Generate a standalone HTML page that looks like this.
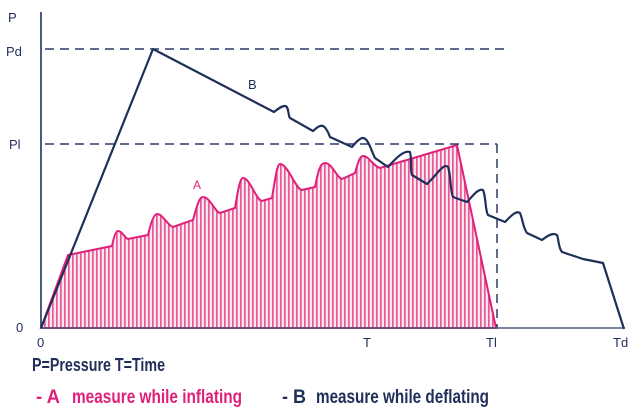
<!DOCTYPE html>
<html><head><meta charset="utf-8"><style>
html,body{margin:0;padding:0;background:#fff;width:644px;height:418px;overflow:hidden}
svg{display:block}
text{font-family:"Liberation Sans",sans-serif}
</style></head><body>
<svg width="644" height="418" viewBox="0 0 644 418" xmlns="http://www.w3.org/2000/svg">
<defs>
<pattern id="h" width="4" height="10" patternUnits="userSpaceOnUse">
<rect width="4" height="10" fill="#fce6ef"/>
<rect x="0" width="1.7" height="10" fill="#e85a95"/>
</pattern>
</defs>
<path d="M41,328 L68,255 L112,246 C114,236 116,231 118,231 C122,231 125,238 128,239 L148,235 C151,222 154,214 157,214 C163,214 168,226 173,227 L193,220 C197,206 199,197 203,197 C210,197 215,212 220,213 L235,208 C238,190 240,178 243,178 C250,178 256,200 262,201 L272,198 C275,180 277,164 280,164 C288,164 296,190 302,190 L315,187 C318,172 320,163 325,163 C332,163 337,178 342,179 L355,173 C358,162 360,156 363,156 C369,156 374,167 380,168 L457,145 L496,328 Z" fill="url(#h)" stroke="#e0207a" stroke-width="2"/>
<g stroke="#2a3a66" stroke-width="1.5" stroke-dasharray="9,6" fill="none">
<line x1="45" y1="49" x2="505" y2="49"/>
<line x1="45" y1="144" x2="497" y2="144"/>
<line x1="497" y1="144" x2="497" y2="328"/>
</g>
<line x1="41" y1="12" x2="41" y2="329" stroke="#4a5a80" stroke-width="2"/>
<line x1="41" y1="328" x2="625" y2="328" stroke="#4a5a80" stroke-width="1.5"/>
<path d="M41,328 L153,49 L274,112 C279,108 282,106 285,106 C289,106 288,116 290,118 L313,131 C320,125 324,121 330,137 L352,147 C356,142 360,138 363,138 C368,138 371,150 375,158 L388,167 C396,158 404,150 410,152 C412,160 410,170 412,175 L427,184 C436,176 444,162 448,167 C451,175 450,190 453,197 L467,202 C472,197 478,188 483,190 C486,196 485,210 488,215 L505,222 C510,217 516,210 520,213 C523,220 523,228 527,233 L542,240 C547,236 553,232 557,235 C559,240 558,247 562,252 L583,259 L603,263 L624,329" fill="none" stroke="#1f2f5a" stroke-width="2.2" stroke-linejoin="round"/>
<g fill="#1f2f5a" font-size="13">
<text x="8" y="22">P</text>
<text x="6" y="56">Pd</text>
<text x="9" y="149">Pl</text>
<text x="16" y="332">0</text>
<text x="37" y="347">0</text>
<text x="363" y="347">T</text>
<text x="486" y="347">Tl</text>
<text x="613" y="347">Td</text>
<text x="248" y="89">B</text>
</g>
<text x="193" y="189" fill="#e0207a" font-size="12">A</text>
<text x="32" y="371" fill="#1f2f5a" font-size="18" font-weight="bold" textLength="133" lengthAdjust="spacingAndGlyphs">P=Pressure T=Time</text>
<g font-size="19" font-weight="bold">
<text x="36" y="403" fill="#e0207a" textLength="24" lengthAdjust="spacingAndGlyphs">- A</text>
<text x="72" y="403" fill="#e0207a" textLength="170" lengthAdjust="spacingAndGlyphs">measure while inflating</text>
<text x="282" y="403" fill="#1f2f5a" textLength="24" lengthAdjust="spacingAndGlyphs">- B</text>
<text x="316" y="403" fill="#1f2f5a" textLength="173" lengthAdjust="spacingAndGlyphs">measure while deflating</text>
</g>
</svg>
</body></html>
